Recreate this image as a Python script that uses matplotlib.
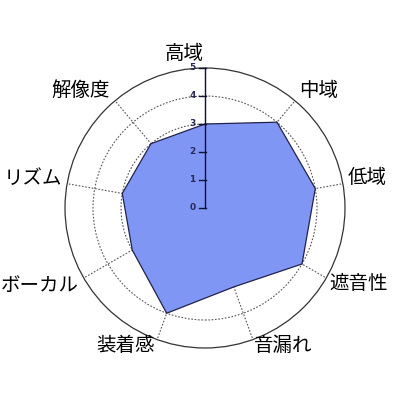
import numpy as np
import matplotlib
matplotlib.use('Agg')
import matplotlib.pyplot as plt
from matplotlib.patches import Circle

plt.rcParams['font.family'] = ['Noto Sans CJK JP', 'DejaVu Sans']

labels = ['高域', '中域', '低域', '遮音性', '音漏れ', '装着感', 'ボーカル', 'リズム', '解像度']
values = [3, 4, 4, 4, 3, 4, 3, 3, 3]
ticks = [0, 1, 2, 3, 4, 5]
# label centres (in data units, from the chart centre)
label_pos = [(-0.75, 5.5), (4.05, 4.2), (5.8, 1.1), (5.5, -2.7), (2.8, -4.9),
             (-2.85, -4.9), (-5.9, -2.75), (-6.15, 1.05), (-4.45, 4.2)]

n = len(labels)
ang = np.pi / 2 - np.arange(n) * 2 * np.pi / n

fig = plt.figure(figsize=(4, 4), dpi=100)
ax = fig.add_axes([0, 0, 1, 1])
ax.set_xlim(-205 / 28, 195 / 28)
ax.set_ylim(-192 / 28, 208 / 28)
ax.set_aspect('equal')
ax.axis('off')

# grid: dotted rings and spokes, solid outer ring
for r in [1, 2, 3, 4]:
    ax.add_patch(Circle((0, 0), r, fill=False, edgecolor='#555555', lw=0.8,
                        ls=(0, (1.5, 1.5)), zorder=1))
ax.add_patch(Circle((0, 0), 5, fill=False, edgecolor='#333333', lw=0.9, zorder=1))
for a in ang:
    ax.plot([0, 5 * np.cos(a)], [0, 5 * np.sin(a)], color='#555555', lw=0.8,
            ls=(0, (1.5, 1.5)), zorder=1)

xs = np.array(values) * np.cos(ang)
ys = np.array(values) * np.sin(ang)
ax.fill(xs, ys, facecolor='#7f96f5', edgecolor='#22224a', lw=0.9, zorder=2)

# value axis
ax.plot([0, 0], [0, 5], color='#111133', lw=1.0, zorder=3)
for v in ticks:
    ax.plot([-0.2, 0.05], [v, v], color='#111133', lw=1.0, zorder=3)
    ax.text(-0.45, v, str(v), ha='center', va='center', fontsize=6.5,
            fontweight='bold', color='#2a2a55', family='DejaVu Sans', zorder=3)

for lab, (lx, ly) in zip(labels, label_pos):
    ax.text(lx, ly, lab, ha='center', va='center', fontsize=14, color='black')

fig.savefig('out.png', dpi=100, facecolor='white')
